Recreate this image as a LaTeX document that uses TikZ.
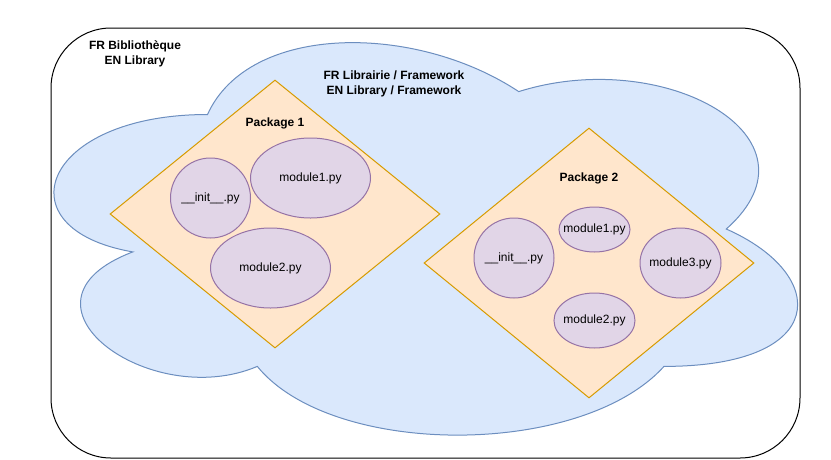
\documentclass[tikz,border=0pt]{standalone}
\usepackage{fontspec}
\setmainfont{Liberation Sans}
\usetikzlibrary{shapes.geometric}
\newcommand{\diagfont}{\fontsize{12}{15}\selectfont}
\tikzstyle{module} = [ellipse, draw=modline, fill=modfill, inner xsep=-8pt, inner ysep=0pt, font=\diagfont]
\tikzstyle{pkg} = [diamond, draw=pkgline, fill=pkgfill, inner sep=0pt]
\tikzstyle{title} = [align=center, font=\diagfont\bfseries]

\begin{document}
\begin{tikzpicture}[x=1pt,y=-1pt,line width=1pt]
\definecolor{cloudfill}{HTML}{DAE8FC}
\definecolor{cloudline}{HTML}{6C8EBF}
\definecolor{pkgfill}{HTML}{FFE6CC}
\definecolor{pkgline}{HTML}{D79B00}
\definecolor{modfill}{HTML}{E1D5E7}
\definecolor{modline}{HTML}{9673A6}
\useasboundingbox (0,0) rectangle (831,459);

    % Draw library frame
    \draw[rounded corners=60pt] (51,28) rectangle (800,458);

    % Draw framework cloud
    \draw[draw=cloudline, fill=cloudfill] (207.5,114.5)
        .. controls (41.5,114.5) and (0,229) .. (132.8,251.9)
        .. controls (0,302.3) and (149.4,412.2) .. (257.3,366.4)
        .. controls (332,458) and (581,458) .. (664,366.4)
        .. controls (830,366.4) and (830,274.8) .. (726.25,229)
        .. controls (830,137.4) and (664,45.8) .. (518.75,91.6)
        .. controls (415,22.9) and (249,22.9) .. (207.5,114.5) -- cycle;

    % Draw two packages
    \node[pkg, minimum width=330pt, minimum height=268pt] (pkgA) at (275,214) {};
    \node[pkg, minimum width=330pt, minimum height=270pt] (pkgB) at (589,263) {};

    \node[title] (libname) at (135,54) {FR Bibliothèque\\EN Library};
    \node[title] (fwname) at (394,84) {FR Librairie / Framework\\EN Library / Framework};
    \node[title] (pkgAname) at (275,123) {Package 1};
    \node[title] (pkgBname) at (589,178) {Package 2};

\node[module, minimum width=80pt, minimum height=80pt] (initA) at (210.5,198) {\_\_init\_\_.py};
\node[module, minimum width=120pt, minimum height=80pt] (modA1) at (310.5,178) {module1.py};
\node[module, minimum width=120pt, minimum height=80pt] (modA2) at (270.5,268) {module2.py};

\node[module, minimum width=80pt, minimum height=80pt] (initB) at (514,258) {\_\_init\_\_.py};
\node[module, minimum width=71pt, minimum height=45pt] (modB1) at (594.5,229.5) {module1.py};
\node[module, minimum width=81pt, minimum height=55pt] (modB2) at (594.5,320.5) {module2.py};
\node[module, minimum width=81pt, minimum height=70pt] (modB3) at (680.5,263) {module3.py};


\end{tikzpicture}
\end{document}
